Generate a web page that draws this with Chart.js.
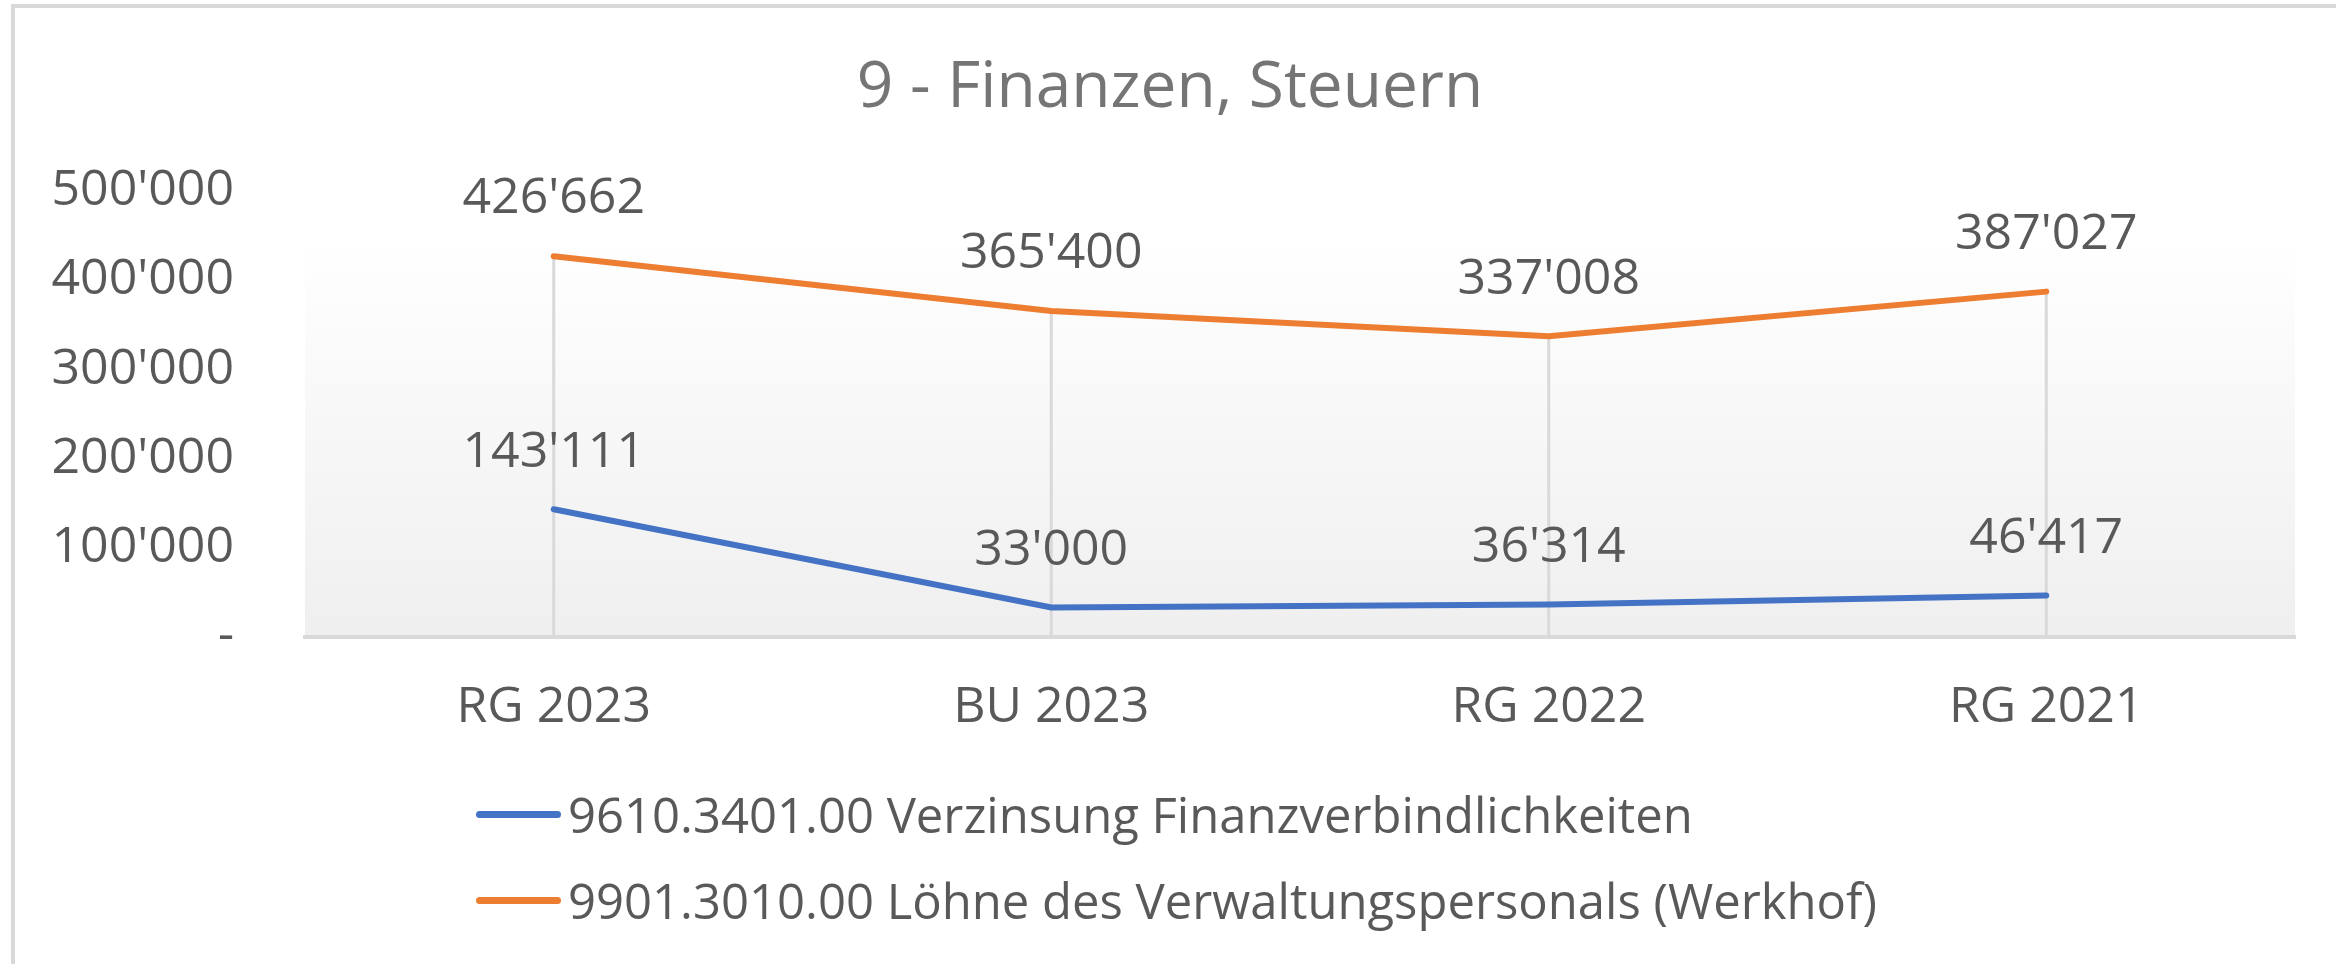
<!DOCTYPE html>
<html>
<head>
<meta charset="utf-8">
<script src="https://cdn.jsdelivr.net/npm/chart.js@4.4.1/dist/chart.umd.min.js"></script>
<style>
    html, body { margin: 0; padding: 0; background: #fff; overflow: hidden; }
    .wrap { position: relative; width: 2336px; height: 964px; overflow: hidden; }
    .edge { position: absolute; background: #d9d9d9; pointer-events: none; }
    .edge.top { left: 11px; top: 4px; width: 2325px; height: 4px; }
    .edge.left { left: 11px; top: 4px; width: 4px; height: 960px; }
    #chart { position: absolute; left: 0; top: 0; }
    .legend { position: absolute; left: 476px; top: 771px; font-family: 'Open Sans', sans-serif;
              font-size: 49px; color: #595959; }
    .legend-item { display: flex; align-items: center; height: 86px; white-space: nowrap; }
    .legend-line { width: 85px; height: 7px; border-radius: 4px; margin-right: 7px; }
</style>
</head>
<body>
<div class="wrap">
    <div class="edge top"></div>
    <div class="edge left"></div>
    <canvas id="chart" width="2336" height="964"></canvas>
    <div class="legend" id="legend"></div>
</div>
<script>
const categories = ['RG 2023', 'BU 2023', 'RG 2022', 'RG 2021'];
const zinsen = [143111, 33000, 36314, 46417];
const loehne = [426662, 365400, 337008, 387027];
const yTicks = [0, 100000, 200000, 300000, 400000, 500000];

const seriesNames = [
    '9610.3401.00 Verzinsung Finanzverbindlichkeiten',
    '9901.3010.00 Löhne des Verwaltungspersonals (Werkhof)'
];

const FONT = 'Open Sans';
const TEXT = '#595959';

function fmt(v) {
    if (v === 0) return '-';
    return String(v).replace(/\B(?=(\d{3})+(?!\d))/g, "'");
}

// plot area fill: white at top, light gray at bottom
const plotBackground = {
    id: 'plotBackground',
    beforeDraw(chart) {
        const { ctx, chartArea: a } = chart;
        const g = ctx.createLinearGradient(0, a.top, 0, a.bottom);
        g.addColorStop(0, '#ffffff');
        g.addColorStop(0.1, '#ffffff');
        g.addColorStop(1, '#efefef');
        ctx.save();
        ctx.fillStyle = g;
        ctx.fillRect(a.left, a.top, a.right - a.left, a.bottom - a.top);
        ctx.restore();
    }
};

// drop lines from the highest point down to the axis
const dropLines = {
    id: 'dropLines',
    beforeDatasetsDraw(chart) {
        const { ctx, chartArea: a } = chart;
        const metas = chart.data.datasets.map((d, i) => chart.getDatasetMeta(i));
        ctx.save();
        ctx.strokeStyle = '#d9d9d9';
        ctx.lineWidth = 3;
        categories.forEach((c, i) => {
            const top = Math.min(...metas.map(m => m.data[i].y));
            const x = metas[0].data[i].x;
            ctx.beginPath();
            ctx.moveTo(x, top);
            ctx.lineTo(x, a.bottom);
            ctx.stroke();
        });
        ctx.restore();
    }
};

// value labels above each point
const valueLabels = {
    id: 'valueLabels',
    afterDatasetsDraw(chart) {
        const { ctx } = chart;
        ctx.save();
        ctx.font = '50px "' + FONT + '"';
        ctx.fillStyle = TEXT;
        ctx.textAlign = 'center';
        ctx.textBaseline = 'middle';
        chart.data.datasets.forEach((ds, di) => {
            chart.getDatasetMeta(di).data.forEach((pt, i) => {
                ctx.fillText(fmt(ds.data[i]), pt.x, pt.y - 57);
            });
        });
        ctx.restore();
    }
};

const ctx = document.getElementById('chart').getContext('2d');

const chart = new Chart(ctx, {
    type: 'line',
    data: {
        labels: categories,
        datasets: [{
            label: seriesNames[0],
            data: zinsen,
            borderColor: '#4472C4',
            borderWidth: 6,
            borderCapStyle: 'round',
            pointRadius: 0,
            tension: 0
        }, {
            label: seriesNames[1],
            data: loehne,
            borderColor: '#ED7D31',
            borderWidth: 6,
            borderCapStyle: 'round',
            pointRadius: 0,
            tension: 0
        }]
    },
    options: {
        responsive: false,
        animation: false,
        devicePixelRatio: 1,
        layout: {
            padding: { left: 45, right: 41, top: 0, bottom: 185 }
        },
        plugins: {
            legend: { display: false },
            tooltip: { enabled: false },
            title: {
                display: true,
                text: '9 - Finanzen, Steuern',
                color: '#757575',
                font: { family: FONT, size: 64, weight: 'normal' },
                padding: { top: 50, bottom: 64 }
            }
        },
        scales: {
            x: {
                offset: true,
                grid: { display: false, drawTicks: false },
                border: { display: true, color: '#d9d9d9', width: 4 },
                ticks: {
                    color: TEXT,
                    padding: 41,
                    maxRotation: 0,
                    font: { family: FONT, size: 50 }
                }
            },
            y: {
                min: 0,
                max: 500000,
                afterBuildTicks(scale) {
                    scale.ticks = yTicks.map(v => ({ value: v }));
                },
                afterFit(scale) {
                    scale.width = 260;
                },
                grid: { display: false, drawTicks: false },
                border: { display: false },
                ticks: {
                    color: TEXT,
                    padding: 71,
                    font: { family: FONT, size: 50 },
                    callback: v => fmt(v)
                }
            }
        }
    },
    plugins: [plotBackground, dropLines, valueLabels]
});

// legend as a left-aligned column, built from the datasets
const legendEl = document.getElementById('legend');
chart.data.datasets.forEach(ds => {
    const item = document.createElement('div');
    item.className = 'legend-item';
    const line = document.createElement('span');
    line.className = 'legend-line';
    line.style.background = ds.borderColor;
    const txt = document.createElement('span');
    txt.textContent = ds.label;
    item.appendChild(line);
    item.appendChild(txt);
    legendEl.appendChild(item);
});
</script>
</body>
</html>
